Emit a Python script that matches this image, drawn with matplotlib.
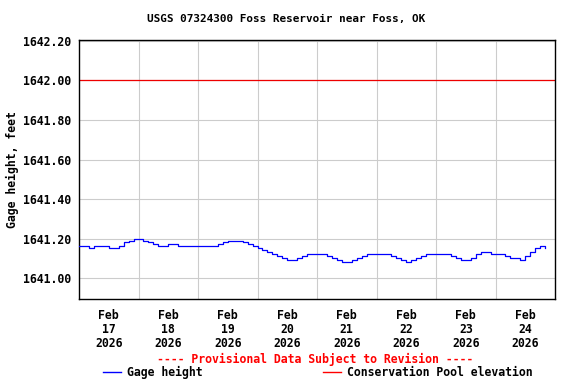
import matplotlib
matplotlib.use("Agg")
import matplotlib.pyplot as plt
import numpy as np
import pandas as pd

# --- data (2-hourly readings, feet) ---
start = "2026-02-17 00:00"
gage_feb17 = [1641.16, 1641.16, 1641.15, 1641.16, 1641.16, 1641.16,
              1641.15, 1641.15, 1641.16, 1641.18, 1641.19, 1641.20]
gage_feb18 = [1641.20, 1641.19, 1641.18, 1641.17, 1641.16, 1641.16,
              1641.17, 1641.17, 1641.16, 1641.16, 1641.16, 1641.16]
gage_feb19 = [1641.16, 1641.16, 1641.16, 1641.16, 1641.17, 1641.18,
              1641.19, 1641.19, 1641.19, 1641.18, 1641.17, 1641.16]
gage_feb20 = [1641.15, 1641.14, 1641.13, 1641.12, 1641.11, 1641.10,
              1641.09, 1641.09, 1641.10, 1641.11, 1641.12, 1641.12]
gage_feb21 = [1641.12, 1641.12, 1641.11, 1641.10, 1641.09, 1641.08,
              1641.08, 1641.09, 1641.10, 1641.11, 1641.12, 1641.12]
gage_feb22 = [1641.12, 1641.12, 1641.12, 1641.11, 1641.10, 1641.09,
              1641.08, 1641.09, 1641.10, 1641.11, 1641.12, 1641.12]
gage_feb23 = [1641.12, 1641.12, 1641.12, 1641.11, 1641.10, 1641.09,
              1641.09, 1641.10, 1641.12, 1641.13, 1641.13, 1641.12]
gage_feb24 = [1641.12, 1641.12, 1641.11, 1641.10, 1641.10, 1641.09,
              1641.11, 1641.13, 1641.15, 1641.16, 1641.15]
pool_elev = 1642.00

day_labels = ["Feb\n17\n2026", "Feb\n18\n2026", "Feb\n19\n2026", "Feb\n20\n2026",
              "Feb\n21\n2026", "Feb\n22\n2026", "Feb\n23\n2026", "Feb\n24\n2026"]
y_ticks = [1641.00, 1641.20, 1641.40, 1641.60, 1641.80, 1642.00, 1642.20]

gage = (gage_feb17 + gage_feb18 + gage_feb19 + gage_feb20 +
        gage_feb21 + gage_feb22 + gage_feb23 + gage_feb24)
t0 = pd.Timestamp(start)
hours = np.arange(len(gage)) * 2.0
days = hours / 24.0

FONT = "DejaVu Sans Mono"

fig = plt.figure(figsize=(5.76, 3.84), dpi=100)
ax = fig.add_axes([79 / 576, 1 - 299 / 384, 476 / 576, 259 / 384])

ax.set_xlim(0, 8)
ax.set_ylim(1640.894, 1642.205)

# grid
for d in range(1, 8):
    ax.axvline(d, color="#cccccc", lw=0.8, zorder=1)
for yv in y_ticks:
    ax.axhline(yv, color="#cccccc", lw=0.8, zorder=1)

ax.axhline(pool_elev, color="#ee0000", lw=0.9, zorder=2)
ax.plot(days, gage, color="#0000ff", lw=0.9, drawstyle="steps-post", zorder=3)

ax.set_yticks(y_ticks)
ax.set_yticklabels([f"{v:.2f}" for v in y_ticks], family=FONT,
                   fontweight="bold", fontsize=8.3)
ax.set_xticks(np.arange(8) + 0.5)
ax.set_xticklabels(day_labels, family=FONT, fontweight="bold", fontsize=8.3,
                   linespacing=1.1)
ax.tick_params(axis="both", length=0)
ax.tick_params(axis="y", pad=6)
ax.tick_params(axis="x", pad=7)
for s in ax.spines.values():
    s.set_linewidth(1.0)
    s.set_color("black")

fig.text(0.497, 1 - 19 / 384, "USGS 07324300 Foss Reservoir near Foss, OK",
         ha="center", va="center", family=FONT, fontweight="bold", fontsize=7.9)
fig.text(12 / 576, 1 - 170 / 384, "Gage height, feet", rotation=90,
         ha="center", va="center", family=FONT, fontweight="bold", fontsize=8.3)
fig.text(315 / 576, 1 - 359 / 384, "---- Provisional Data Subject to Revision ----",
         ha="center", va="center", color="#ff0000", family=FONT,
         fontweight="bold", fontsize=8.3)

# legend row
ly = 1 - 372 / 384
fig.add_artist(plt.Line2D([103 / 576, 121 / 576], [ly, ly], color="#0000ff", lw=1.0))
fig.text(127 / 576, ly, "Gage height", ha="left", va="center",
         family=FONT, fontweight="bold", fontsize=8.3)
fig.add_artist(plt.Line2D([323 / 576, 341 / 576], [ly, ly], color="#ff0000", lw=1.0))
fig.text(347 / 576, ly, "Conservation Pool elevation", ha="left", va="center",
         family=FONT, fontweight="bold", fontsize=8.3)

fig.savefig("out.png", dpi=100)
